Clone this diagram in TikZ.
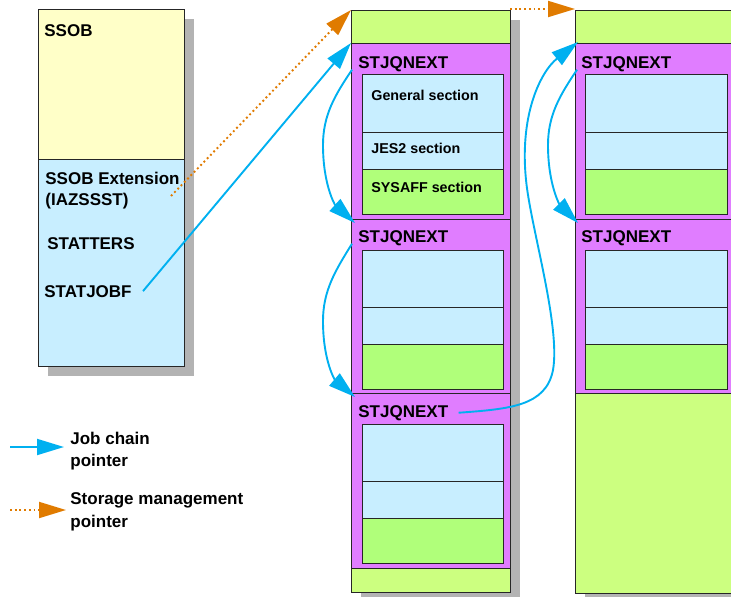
\documentclass[tikz,border=0pt]{standalone}
\usepackage{fontspec}
\setmainfont{Liberation Sans}
\usetikzlibrary{arrows.meta}

\definecolor{jaunessob}{HTML}{FFFFC8}
\definecolor{bleuclair}{HTML}{C8EEFF}
\definecolor{violetbloc}{HTML}{E07DFF}
\definecolor{vertpale}{HTML}{CCFF80}
\definecolor{vertsysaff}{HTML}{B0FF7A}
\definecolor{grisombre}{HTML}{B3B3B3}
\definecolor{bleuchaine}{HTML}{00B0F0}
\definecolor{orangestock}{HTML}{E07B00}

\begin{document}
\begin{tikzpicture}[x=1pt, y=-1pt, line width=0.8pt]
\tikzstyle{bloc} = [draw=black!85, anchor=north west, inner sep=0pt, outer sep=0pt]
\tikzstyle{ombre} = [fill=grisombre, draw=none]
\tikzstyle{titre} = [anchor=base west, inner sep=0pt, font=\fontsize{17}{22.5}\selectfont\bfseries]
\tikzstyle{section} = [anchor=base west, inner sep=0pt, font=\fontsize{14.3}{17}\selectfont\bfseries]
\tikzstyle{chaine} = [draw=bleuchaine, line width=1.9pt, -{Triangle[length=27pt, width=16pt]}]
\tikzstyle{stockage} = [draw=orangestock, line width=1.9pt, dash pattern=on 1.9pt off 2.8pt, -{Triangle[length=27pt, width=16pt]}]
\useasboundingbox (0,0) rectangle (731,597);
\clip (0,0) rectangle (731,597);
% ombres
\fill[ombre] (48,19) rectangle (194,376);
\fill[ombre] (361,20) rectangle (520,605);
\fill[ombre] (585,20) rectangle (760,605);
% SSOB
\node[bloc, fill=jaunessob, minimum width=146pt, minimum height=150pt] (ssob) at (38,9) {};
\node[bloc, fill=bleuclair, minimum width=146pt, minimum height=207pt] (ext) at (38,159) {};
\node[titre] (tSSOB) at (44,36) {SSOB};
\node[titre] (tExt) at (45,184) {SSOB Extension};
\node[titre] (tIAZ) at (45,205) {(IAZSSST)};
\node[titre] (tStatters) at (47,249) {STATTERS};
\node[titre] (tStatjobf) at (44,297) {STATJOBF};
% colonne du milieu
\node[bloc, fill=vertpale, minimum width=159pt, minimum height=33pt] (m0) at (351,10) {};
\node[bloc, fill=violetbloc, minimum width=159pt, minimum height=176pt] (m1) at (351,43) {};
\node[bloc, fill=bleuclair, minimum width=141pt, minimum height=58pt] (m1g) at (362,74) {};
\node[bloc, fill=bleuclair, minimum width=141pt, minimum height=37pt] (m1j) at (362,132) {};
\node[bloc, fill=vertsysaff, minimum width=141pt, minimum height=45pt] (m1s) at (362,169) {};
\node[bloc, fill=violetbloc, minimum width=159pt, minimum height=174pt] (m2) at (351,219) {};
\node[bloc, fill=bleuclair, minimum width=141pt, minimum height=57pt] (m2g) at (362,250) {};
\node[bloc, fill=bleuclair, minimum width=141pt, minimum height=37pt] (m2j) at (362,307) {};
\node[bloc, fill=vertsysaff, minimum width=141pt, minimum height=45pt] (m2s) at (362,344) {};
\node[bloc, fill=violetbloc, minimum width=159pt, minimum height=175pt] (m3) at (351,393) {};
\node[bloc, fill=bleuclair, minimum width=141pt, minimum height=57pt] (m3g) at (362,424) {};
\node[bloc, fill=bleuclair, minimum width=141pt, minimum height=37pt] (m3j) at (362,481) {};
\node[bloc, fill=vertsysaff, minimum width=141pt, minimum height=45pt] (m3s) at (362,518) {};
\node[bloc, fill=vertpale, minimum width=159pt, minimum height=24pt] (m4) at (351,568) {};
\node[titre] (m1t) at (358,68) {STJQNEXT};
\node[titre] (m2t) at (358,242) {STJQNEXT};
\node[titre] (m3t) at (358,417) {STJQNEXT};
\node[section] (tGen) at (371,100) {General section};
\node[section] (tJes) at (371,153) {JES2 section};
\node[section] (tSys) at (371,192) {SYSAFF section};
% colonne de droite
\node[bloc, fill=vertpale, minimum width=170pt, minimum height=33pt] (r0) at (575,10) {};
\node[bloc, fill=violetbloc, minimum width=170pt, minimum height=176pt] (r1) at (575,43) {};
\node[bloc, fill=bleuclair, minimum width=142pt, minimum height=58pt] (r1g) at (585,74) {};
\node[bloc, fill=bleuclair, minimum width=142pt, minimum height=37pt] (r1j) at (585,132) {};
\node[bloc, fill=vertsysaff, minimum width=142pt, minimum height=45pt] (r1s) at (585,169) {};
\node[bloc, fill=violetbloc, minimum width=170pt, minimum height=174pt] (r2) at (575,219) {};
\node[bloc, fill=bleuclair, minimum width=142pt, minimum height=57pt] (r2g) at (585,250) {};
\node[bloc, fill=bleuclair, minimum width=142pt, minimum height=37pt] (r2j) at (585,307) {};
\node[bloc, fill=vertsysaff, minimum width=142pt, minimum height=45pt] (r2s) at (585,344) {};
\node[bloc, fill=vertpale, minimum width=170pt, minimum height=200pt] (r3) at (575,393) {};
\node[titre] (r1t) at (581,68) {STJQNEXT};
\node[titre] (r2t) at (581,242) {STJQNEXT};
% legende
\coordinate (lgChaineA) at (10,447);
\coordinate (lgChaineB) at (64,447);
\coordinate (lgStockA) at (10,510);
\coordinate (lgStockB) at (66,510);
\node[titre] (lgChaine) at (70,444) {Job chain};
\node[titre] (lgChaineP) at (70,466) {pointer};
\node[titre] (lgStock) at (70,504) {Storage management};
\node[titre] (lgStockP) at (70,527) {pointer};
% pointeurs
\coordinate (debStock) at (171,196);
\draw[stockage] (debStock) -- (m0.north west);
\draw[stockage] ([yshift=1pt]m0.north east) -- ([yshift=1pt]r0.north west);
\draw[chaine] ([xshift=11pt]tStatjobf.east) -- (m1.north west);
\draw[chaine] ([shift={(-6,-2)}]m1t.south west) .. controls (335,95) and (323,115) .. (323,145)
  .. controls (323,185) and (335,205) .. ([shift={(4,4)}]m2.north west);
\draw[chaine] ([shift={(-6,-2)}]m2t.south west) .. controls (335,271) and (323,291) .. (323,321)
  .. controls (323,361) and (335,380) .. ([shift={(4,4)}]m3.north west);
\draw[chaine] ([shift={(-4,-2)}]r1t.south west) .. controls (560,95) and (548,115) .. (548,145)
  .. controls (548,185) and (560,205) .. ([shift={(3,4)}]r2.north west);
\draw[chaine] ([xshift=10pt]m3t.east) .. controls (510,409) and (546,406) .. (553,370)
  .. controls (560,330) and (536,245) .. (528,195)
  .. controls (516,120) and (540,72) .. ([shift={(3,-1)}]r1.north west);
\draw[chaine] (lgChaineA) -- (lgChaineB);
\draw[stockage] (lgStockA) -- (lgStockB);
\end{tikzpicture}
\end{document}
